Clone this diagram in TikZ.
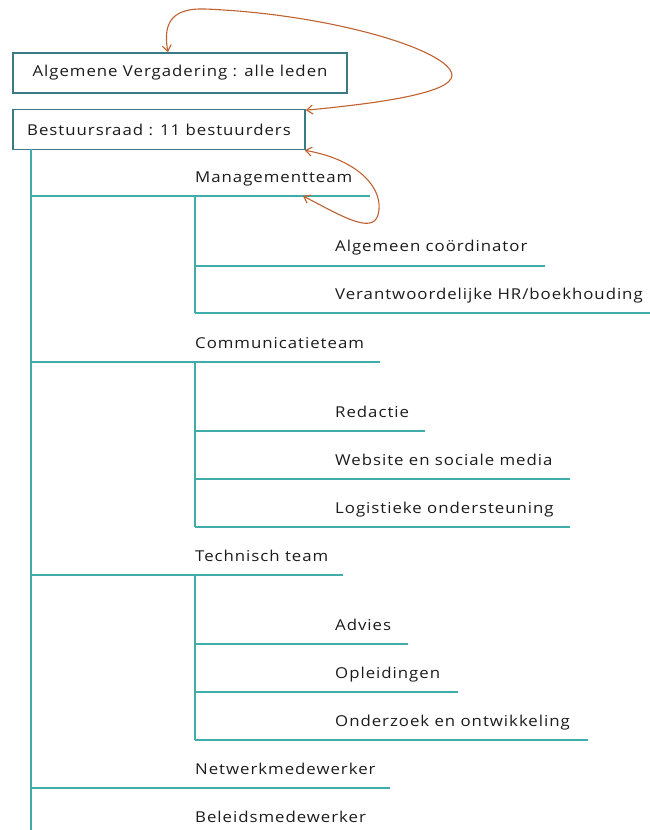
\documentclass[tikz,border=0pt]{standalone}
\usepackage{fontspec}
\setmainfont{Open Sans}[FakeStretch=1.12, LetterSpace=6.5]
\usetikzlibrary{arrows.meta}
\definecolor{tealline}{RGB}{64,172,172}
\definecolor{boxline}{RGB}{58,122,132}
\definecolor{arr}{RGB}{192,98,48}
\definecolor{txt}{RGB}{28,28,28}
\tikzset{
  lbl/.style={anchor=mid west, inner sep=0pt, text=txt, font=\fontsize{15}{17}\selectfont, yshift=-2pt},
  hline/.style={draw=tealline, line width=1.6pt},
  boxnode/.style={draw=boxline, line width=1.6pt, minimum height=40pt, inner sep=0pt, text=txt, font=\fontsize{15}{17}\selectfont},
  loop/.style={draw=arr, line width=1.1pt, {Straight Barb[length=6pt,width=9pt]}-{Straight Barb[length=6pt,width=9pt]}}
}
\begin{document}
\begin{tikzpicture}[x=1pt,y=-1pt]
\useasboundingbox[fill=white] (0,0) rectangle (650,830);
% boxes
\node[boxnode, minimum width=334pt] (av) at (180,73) {Algemene Vergadering : alle leden};
\node[boxnode, minimum width=292pt] (br) at (159,129.5) {Bestuursraad : 11 bestuurders};
% trunk
\coordinate (t0) at (31,149);
\coordinate (t1) at (31,832);
\draw[hline] (t0) -- (t1);
% Managementteam
\node[lbl] (mt) at (195,178) {Managementteam};
\coordinate (mtL) at (31,196); \coordinate (mtR) at (370,196);
\draw[hline] (mtL) -- (mtR);
\coordinate (mtS) at (195,196);
\node[lbl] (ac) at (335,247) {Algemeen coördinator};
\coordinate (acL) at (195,266); \coordinate (acR) at (545,266);
\draw[hline] (acL) -- (acR);
\node[lbl] (hr) at (335,295) {Verantwoordelijke HR/boekhouding};
\coordinate (hrL) at (195,313); \coordinate (hrR) at (652,313);
\draw[hline] (hrL) -- (hrR);
\draw[hline] (mtS) -- (hrL);
% Communicatieteam
\node[lbl] (ct) at (195,344) {Communicatieteam};
\coordinate (ctL) at (31,362); \coordinate (ctR) at (380,362);
\draw[hline] (ctL) -- (ctR);
\coordinate (ctS) at (195,362);
\node[lbl] (re) at (335,413) {Redactie};
\coordinate (reL) at (195,431); \coordinate (reR) at (425,431);
\draw[hline] (reL) -- (reR);
\node[lbl] (ws) at (335,461) {Website en sociale media};
\coordinate (wsL) at (195,479); \coordinate (wsR) at (570,479);
\draw[hline] (wsL) -- (wsR);
\node[lbl] (lo) at (335,509) {Logistieke ondersteuning};
\coordinate (loL) at (195,527); \coordinate (loR) at (570,527);
\draw[hline] (loL) -- (loR);
\draw[hline] (ctS) -- (loL);
% Technisch team
\node[lbl] (tt) at (195,557) {Technisch team};
\coordinate (ttL) at (31,575); \coordinate (ttR) at (343,575);
\draw[hline] (ttL) -- (ttR);
\coordinate (ttS) at (195,575);
\node[lbl] (ad) at (335,626) {Advies};
\coordinate (adL) at (195,644); \coordinate (adR) at (408,644);
\draw[hline] (adL) -- (adR);
\node[lbl] (op) at (335,674) {Opleidingen};
\coordinate (opL) at (195,692); \coordinate (opR) at (458,692);
\draw[hline] (opL) -- (opR);
\node[lbl] (oo) at (335,722) {Onderzoek en ontwikkeling};
\coordinate (ooL) at (195,740); \coordinate (ooR) at (588,740);
\draw[hline] (ooL) -- (ooR);
\draw[hline] (ttS) -- (ooL);
% Netwerk / Beleid
\node[lbl] (nw) at (195,770) {Netwerkmedewerker};
\coordinate (nwL) at (31,788); \coordinate (nwR) at (390,788);
\draw[hline] (nwL) -- (nwR);
\node[lbl] (bm) at (195,818) {Beleidsmedewerker};
% orange loops
\coordinate (a1) at ([xshift=-12pt]av.north);
\coordinate (a2) at ([yshift=-1.5pt]br.north east);
\draw[loop] (a1) .. controls (162,20) and (175,8) .. (205,9)
  .. controls (330,14) and (450,50) .. (452,75)
  .. controls (453,95) and (360,105) .. (a2);
\coordinate (b1) at ([xshift=-1pt]br.south east);
\coordinate (b2) at ([xshift=-67pt]mtR);
\draw[loop] (b1) .. controls (360,160) and (385,190) .. (378,215)
  .. controls (372,235) and (340,215) .. (b2);
\end{tikzpicture}
\end{document}
